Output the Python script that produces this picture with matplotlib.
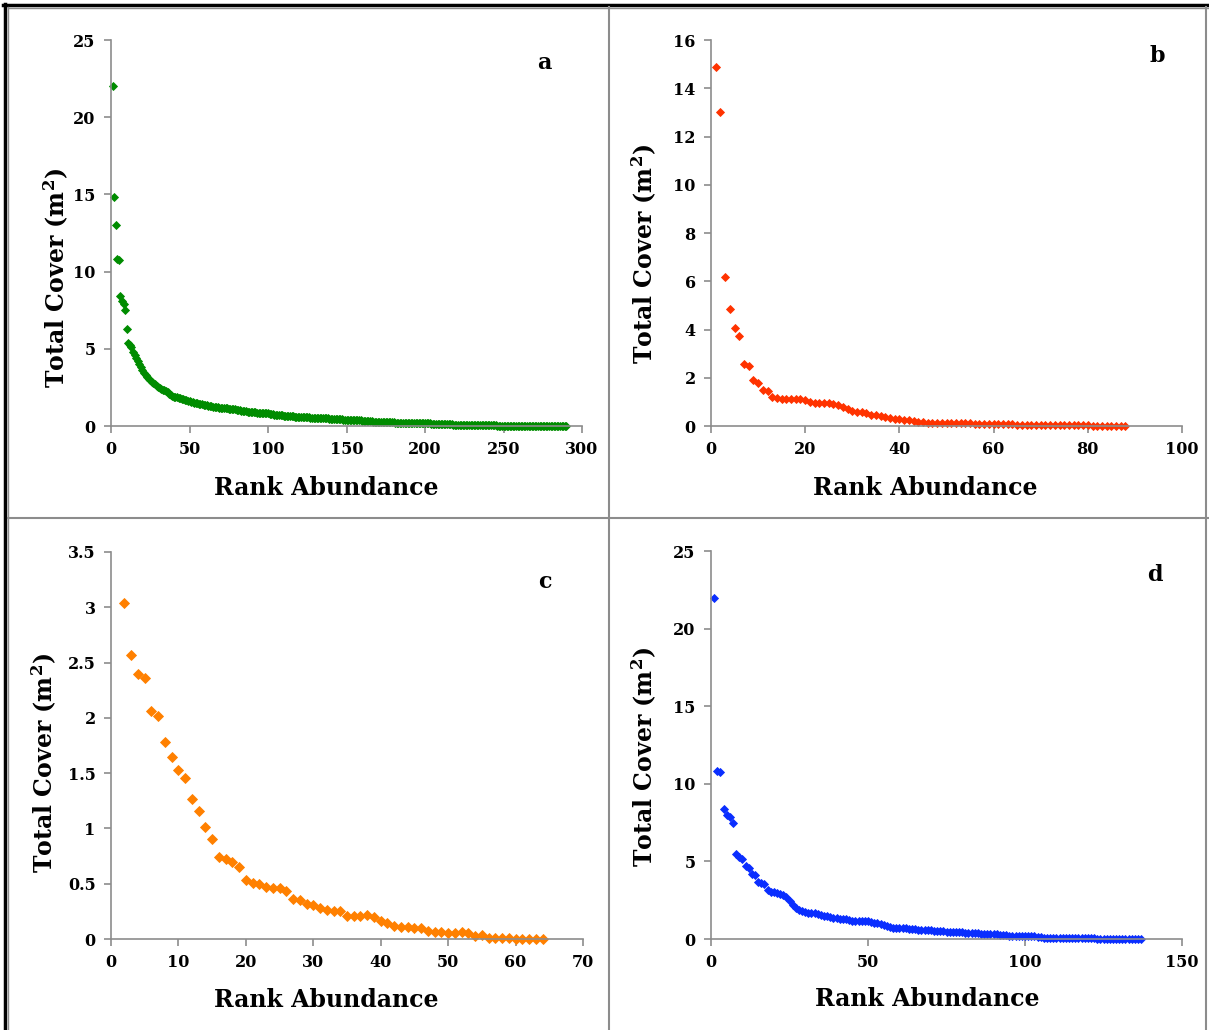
import numpy as np
import matplotlib
matplotlib.use('Agg')
import matplotlib.pyplot as plt
from matplotlib.lines import Line2D
from matplotlib.ticker import FuncFormatter

plt.rcParams['font.family'] = ['DejaVu Serif']
plt.rcParams['font.weight'] = 'bold'
plt.rcParams['mathtext.fontset'] = 'dejavuserif'

# panel a - all species (290 ranks)
cover_a = [
    22.0, 14.85, 13.05, 10.8, 10.75, 8.4, 8.1, 7.9, 7.5, 6.3,
    5.4, 5.25, 5.1, 4.8, 4.6, 4.4, 4.2, 4.0, 3.8, 3.6,
    3.45, 3.3, 3.15, 3.05, 2.95, 2.85, 2.78, 2.7, 2.62, 2.55,
    2.48, 2.42, 2.36, 2.3, 2.25, 2.2, 2.1, 2.0, 1.95, 1.9,
    1.88, 1.85, 1.82, 1.8, 1.77, 1.74, 1.7, 1.67, 1.64, 1.6,
    1.57, 1.55, 1.52, 1.5, 1.47, 1.45, 1.42, 1.4, 1.38, 1.36,
    1.34, 1.32, 1.3, 1.28, 1.26, 1.24, 1.22, 1.2, 1.19, 1.18,
    1.17, 1.16, 1.15, 1.14, 1.13, 1.12, 1.11, 1.1, 1.08, 1.06,
    1.04, 1.02, 1.0, 0.98, 0.96, 0.94, 0.93, 0.92, 0.91, 0.9,
    0.89, 0.88, 0.87, 0.86, 0.85, 0.84, 0.83, 0.82, 0.82, 0.81,
    0.79, 0.77, 0.76, 0.74, 0.73, 0.72, 0.71, 0.7, 0.69, 0.68,
    0.67, 0.66, 0.65, 0.64, 0.63, 0.62, 0.61, 0.6, 0.6, 0.59,
    0.58, 0.58, 0.57, 0.57, 0.56, 0.56, 0.55, 0.55, 0.54, 0.54,
    0.53, 0.53, 0.52, 0.52, 0.51, 0.5, 0.5, 0.49, 0.48, 0.48,
    0.47, 0.46, 0.46, 0.45, 0.44, 0.44, 0.43, 0.42, 0.42, 0.41,
    0.41, 0.4, 0.4, 0.39, 0.39, 0.38, 0.38, 0.37, 0.36, 0.35,
    0.34, 0.33, 0.32, 0.31, 0.3, 0.3, 0.29, 0.29, 0.28, 0.28,
    0.27, 0.27, 0.26, 0.26, 0.25, 0.25, 0.24, 0.24, 0.23, 0.23,
    0.22, 0.22, 0.22, 0.22, 0.21, 0.21, 0.21, 0.21, 0.21, 0.21,
    0.21, 0.2, 0.2, 0.2, 0.2, 0.19, 0.19, 0.19, 0.18, 0.18,
    0.18, 0.17, 0.17, 0.16, 0.16, 0.15, 0.15, 0.14, 0.14, 0.13,
    0.13, 0.12, 0.12, 0.11, 0.11, 0.1, 0.1, 0.09, 0.09, 0.08,
    0.08, 0.08, 0.07, 0.07, 0.07, 0.06, 0.06, 0.06, 0.06, 0.05,
    0.05, 0.05, 0.05, 0.05, 0.05, 0.05, 0.04, 0.04, 0.04, 0.04,
    0.04, 0.04, 0.04, 0.04, 0.04, 0.03, 0.03, 0.03, 0.03, 0.03,
    0.03, 0.03, 0.03, 0.03, 0.03, 0.03, 0.03, 0.03, 0.02, 0.02,
] + [0.02] * 20 + [0.01] * 10

# panel b (88 ranks)
cover_b = [
    14.87, 13.03, 6.19, 4.85, 4.06, 3.73, 2.58, 2.47, 1.89, 1.78,
    1.5, 1.45, 1.2, 1.15, 1.13, 1.12, 1.12, 1.13, 1.1, 1.06,
    1.0, 0.97, 0.96, 0.96, 0.96, 0.92, 0.85, 0.78, 0.7, 0.62,
    0.6, 0.58, 0.52, 0.45, 0.44, 0.4, 0.37, 0.33, 0.3, 0.27,
    0.25, 0.24, 0.2, 0.17, 0.15, 0.14, 0.14, 0.14, 0.13, 0.13,
    0.13, 0.12, 0.12, 0.12, 0.11, 0.1, 0.1, 0.09, 0.09, 0.08,
    0.08, 0.07, 0.07, 0.07, 0.06, 0.06, 0.06, 0.05, 0.05, 0.05,
    0.05, 0.04, 0.04, 0.04, 0.04, 0.03, 0.03, 0.03, 0.03, 0.03,
] + [0.02] * 8

# panel c (ranks 2..64)
cover_c = [
    3.04, 2.57, 2.40, 2.36, 2.06, 2.02, 1.78, 1.65, 1.53, 1.455,
    1.27, 1.16, 1.01, 0.90, 0.74, 0.72, 0.70, 0.655, 0.53, 0.51,
    0.50, 0.47, 0.465, 0.465, 0.43, 0.36, 0.35, 0.32, 0.31, 0.28,
    0.26, 0.25, 0.25, 0.21, 0.21, 0.21, 0.215, 0.195, 0.16, 0.145,
    0.115, 0.11, 0.105, 0.10, 0.095, 0.073, 0.06, 0.06, 0.056, 0.056,
    0.06, 0.056, 0.025, 0.04, 0.006, 0.006, 0.01, 0.01, 0.0, 0.003,
    0.003, 0.003, 0.0,
]
rank_c_start = 2

# panel d (137 ranks)
cover_d = [
    22.0, 10.8, 10.75, 8.35, 8.0, 7.85, 7.5, 5.45, 5.3, 5.15,
    4.7, 4.6, 4.2, 4.15, 3.7, 3.6, 3.55, 3.15, 3.05, 3.0,
    2.95, 2.9, 2.85, 2.7, 2.45, 2.2, 2.0, 1.9, 1.8, 1.75,
    1.7, 1.68, 1.66, 1.62, 1.55, 1.5, 1.45, 1.4, 1.36, 1.34,
    1.32, 1.3, 1.27, 1.22, 1.16, 1.15, 1.14, 1.14, 1.14, 1.13,
    1.1, 1.05, 1.0, 0.97, 0.92, 0.85, 0.78, 0.73, 0.71, 0.71,
    0.7, 0.68, 0.66, 0.64, 0.62, 0.6, 0.58, 0.57, 0.56, 0.55,
    0.53, 0.52, 0.5, 0.49, 0.47, 0.46, 0.45, 0.44, 0.43, 0.42,
    0.4, 0.39, 0.38, 0.37, 0.36, 0.35, 0.34, 0.33, 0.32, 0.31,
    0.3, 0.28, 0.26, 0.24, 0.22, 0.21, 0.21, 0.21, 0.21, 0.21,
    0.21, 0.21, 0.2, 0.15, 0.1, 0.08, 0.07, 0.06, 0.06, 0.06,
    0.06, 0.06, 0.05, 0.05, 0.05, 0.05, 0.05, 0.05, 0.05, 0.04,
    0.04, 0.04, 0.03, 0.03, 0.03, 0.02, 0.02, 0.01, 0.01, 0.01,
] + [0.01] * 7

panels = [
    # letter, values, first rank, colour, xmax, xstep, ymax, ystep
    ('a', cover_a, 1, '#008C00', 300, 50, 25, 5),
    ('b', cover_b, 1, '#FF3300', 100, 20, 16, 2),
    ('c', cover_c, rank_c_start, '#FF8000', 70, 10, 3.5, 0.5),
    ('d', cover_d, 1, '#0A2EFF', 150, 50, 25, 5),
]

# layout in pixels of the original picture
W, H = 1209, 1030
boxes = {'a': (111, 40, 582, 426), 'b': (711, 40, 1182, 426),
         'c': (111, 552, 583, 939), 'd': (711, 551, 1182, 939)}
ms = {'a': 4.5, 'b': 4.2, 'c': 5.0, 'd': 4.2}
ylab_pos = {'a': (-0.115, 0.383), 'b': (-0.142, 0.446), 'c': (-0.142, 0.455), 'd': (-0.141, 0.469)}
xlab_pos = {'a': (0.456, -0.161), 'b': (0.454, -0.161), 'c': (0.456, -0.158), 'd': (0.459, -0.155)}
letter_pos = {'a': (0.919, 0.94), 'b': (0.947, 0.959), 'c': (0.919, 0.922), 'd': (0.943, 0.938)}

fig = plt.figure(figsize=(W / 100, H / 100), dpi=100)
grey = '#8c8c8c'

for letter, vals, r0, col, xmax, xstep, ymax, ystep in panels:
    x0, y0, x1, y1 = boxes[letter]
    ax = fig.add_axes([x0 / W, 1 - y1 / H, (x1 - x0) / W, (y1 - y0) / H])
    ranks = np.arange(r0, r0 + len(vals))
    ax.plot(ranks, vals, linestyle='none', marker='D', ms=ms[letter],
            color=col, mec=col, mew=0.6, clip_on=False)
    ax.set_xlim(0, xmax)
    ax.set_ylim(0, ymax)
    ax.set_xticks(np.arange(0, xmax + xstep / 2, xstep))
    ax.set_yticks(np.arange(0, ymax + ystep / 2, ystep))
    ax.yaxis.set_major_formatter(FuncFormatter(lambda v, p: f'{v:g}'))
    for s in ['top', 'right']:
        ax.spines[s].set_visible(False)
    for s in ['left', 'bottom']:
        ax.spines[s].set_color(grey)
        ax.spines[s].set_linewidth(1.2)
    ax.tick_params(direction='out', length=5, width=1.2, color=grey,
                   labelsize=11.5, pad=6)
    for lab in ax.get_xticklabels() + ax.get_yticklabels():
        lab.set_fontweight('bold')

    ax.set_xlabel('Rank Abundance', fontsize=17, fontweight='bold', va='center')
    ax.xaxis.set_label_coords(*xlab_pos[letter])
    ax.set_ylabel(r'Total Cover (m$^{\mathbf{2}}$)', fontsize=17, fontweight='bold', va='center')
    ax.yaxis.set_label_coords(*ylab_pos[letter])
    ax.text(*letter_pos[letter], letter, transform=ax.transAxes, fontsize=16,
            fontweight='bold', ha='center', va='center')

# frame lines around / between the panels
fig.add_artist(Line2D([4.5 / W, 4.5 / W], [0, 1 - 4 / H], color='black', lw=2.5))
fig.add_artist(Line2D([3 / W, 1], [1 - 5 / H, 1 - 5 / H], color='black', lw=2.5))
fig.add_artist(Line2D([8 / W, 8 / W], [0, 1 - 7 / H], color=grey, lw=1))
fig.add_artist(Line2D([8 / W, 1], [1 - 7.5 / H, 1 - 7.5 / H], color=grey, lw=1))
fig.add_artist(Line2D([609 / W, 609 / W], [0, 1 - 7 / H], color=grey, lw=1.5))
fig.add_artist(Line2D([8 / W, 1], [1 - 518 / H, 1 - 518 / H], color=grey, lw=1.5))
fig.add_artist(Line2D([1206 / W, 1206 / W], [0, 1 - 7 / H], color=grey, lw=1.5))

fig.savefig('out.png', dpi=100)
